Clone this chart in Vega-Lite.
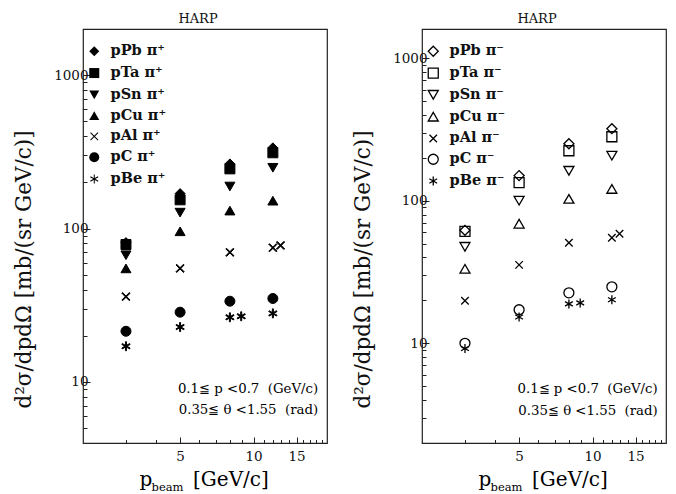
{
  "$schema": "https://vega.github.io/schema/vega-lite/v6.json",
  "padding": {"left": 12, "top": 12, "right": 5, "bottom": 0},
  "background": "white",
  "spacing": 23,
  "datasets": {
    "plus": [
      {"target": "pPb π⁺", "p": 3, "v": 81}, {"target": "pPb π⁺", "p": 5, "v": 169}, {"target": "pPb π⁺", "p": 8, "v": 264}, {"target": "pPb π⁺", "p": 12, "v": 336},
      {"target": "pTa π⁺", "p": 3, "v": 78.7}, {"target": "pTa π⁺", "p": 5, "v": 154}, {"target": "pTa π⁺", "p": 8, "v": 245}, {"target": "pTa π⁺", "p": 12, "v": 312},
      {"target": "pSn π⁺", "p": 3, "v": 67}, {"target": "pSn π⁺", "p": 5, "v": 127}, {"target": "pSn π⁺", "p": 8, "v": 188}, {"target": "pSn π⁺", "p": 12, "v": 249},
      {"target": "pCu π⁺", "p": 3, "v": 55}, {"target": "pCu π⁺", "p": 5, "v": 96}, {"target": "pCu π⁺", "p": 8, "v": 131}, {"target": "pCu π⁺", "p": 12, "v": 152},
      {"target": "pAl π⁺", "p": 3, "v": 36}, {"target": "pAl π⁺", "p": 5, "v": 55}, {"target": "pAl π⁺", "p": 8, "v": 70}, {"target": "pAl π⁺", "p": 12, "v": 75}, {"target": "pAl π⁺", "p": 12.9, "v": 77.6},
      {"target": "pC π⁺", "p": 3, "v": 21.4}, {"target": "pC π⁺", "p": 5, "v": 28.5}, {"target": "pC π⁺", "p": 8, "v": 33.6}, {"target": "pC π⁺", "p": 12, "v": 35},
      {"target": "pBe π⁺", "p": 3, "v": 17.1}, {"target": "pBe π⁺", "p": 5, "v": 22.8}, {"target": "pBe π⁺", "p": 8, "v": 26.4}, {"target": "pBe π⁺", "p": 8.9, "v": 26.8}, {"target": "pBe π⁺", "p": 12, "v": 28}
    ],
    "minus": [
      {"target": "pPb π⁻", "p": 3, "v": 62}, {"target": "pPb π⁻", "p": 5, "v": 150}, {"target": "pPb π⁻", "p": 8, "v": 251}, {"target": "pPb π⁻", "p": 12, "v": 320},
      {"target": "pTa π⁻", "p": 3, "v": 61}, {"target": "pTa π⁻", "p": 5, "v": 134}, {"target": "pTa π⁻", "p": 8, "v": 224}, {"target": "pTa π⁻", "p": 12, "v": 281},
      {"target": "pSn π⁻", "p": 3, "v": 47.5}, {"target": "pSn π⁻", "p": 5, "v": 100}, {"target": "pSn π⁻", "p": 8, "v": 162}, {"target": "pSn π⁻", "p": 12, "v": 207},
      {"target": "pCu π⁻", "p": 3, "v": 33.3}, {"target": "pCu π⁻", "p": 5, "v": 69}, {"target": "pCu π⁻", "p": 8, "v": 103}, {"target": "pCu π⁻", "p": 12, "v": 121},
      {"target": "pAl π⁻", "p": 3, "v": 19.9}, {"target": "pAl π⁻", "p": 5, "v": 35.5}, {"target": "pAl π⁻", "p": 8, "v": 50.7}, {"target": "pAl π⁻", "p": 12, "v": 55}, {"target": "pAl π⁻", "p": 12.9, "v": 58.6},
      {"target": "pC π⁻", "p": 3, "v": 10}, {"target": "pC π⁻", "p": 5, "v": 17.2}, {"target": "pC π⁻", "p": 8, "v": 22.6}, {"target": "pC π⁻", "p": 12, "v": 24.9},
      {"target": "pBe π⁻", "p": 3, "v": 9.2}, {"target": "pBe π⁻", "p": 5, "v": 15.3}, {"target": "pBe π⁻", "p": 8, "v": 18.9}, {"target": "pBe π⁻", "p": 8.9, "v": 19.2}, {"target": "pBe π⁻", "p": 12, "v": 20.2}
    ]
  },
  "resolve": {"scale": {"shape": "independent", "y": "independent", "x": "independent"}, "legend": {"shape": "independent"}},
  "hconcat": [
    {
      "width": 244, "height": 414,
      "title": {"text": "HARP", "anchor": "middle", "dx": -7, "offset": 3},
      "layer": [
        {
          "data": {"name": "plus"},
          "mark": {"type": "point", "filled": true, "size": 100, "color": "black", "stroke": "black", "strokeWidth": 1, "opacity": 1},
          "encoding": {
            "x": {"field": "p", "type": "quantitative", "scale": {"type": "log", "domain": [2, 20], "nice": false},
              "axis": {"title": null, "values": [3,4,5,6,7,8,9,10,11,12,13,14,15,16,17,18,19], "format": "d",
                "labelExpr": "datum.value == 5 || datum.value == 10 || datum.value == 15 ? datum.label : ''",
                "tickSize": {"condition": {"test": "datum.value == 5 || datum.value == 10 || datum.value == 15", "value": -6}, "value": -3.5},
                "labelPadding": 12, "labelFlush": false, "labelOverlap": false}},
            "y": {"field": "v", "type": "quantitative", "scale": {"type": "log", "domain": [4, 2000], "nice": false},
              "axis": {"title": "d²σ/dpdΩ [mb/(sr GeV/c)]", "values": [5,6,7,8,9,10,20,30,40,50,60,70,80,90,100,200,300,400,500,600,700,800,900,1000], "format": "d",
                "labelExpr": "datum.value == 10 || datum.value == 100 || datum.value == 1000 ? datum.label : ''",
                "tickSize": {"condition": {"test": "datum.value == 10 || datum.value == 100 || datum.value == 1000", "value": -7}, "value": -4},
                "labelPadding": 2, "labelFlush": false, "labelOverlap": false, "titleX": -59, "titleY": 240, "titleBaseline": "middle"}},
            "shape": {"field": "target", "type": "nominal",
              "scale": {"domain": ["pPb π⁺", "pTa π⁺", "pSn π⁺", "pCu π⁺", "pAl π⁺", "pC π⁺", "pBe π⁺"],
                "range": ["diamond", "square", "triangle-down", "triangle-up",
                  "M-0.82,-0.68L-0.68,-0.82L0.82,0.68L0.68,0.82ZM-0.68,0.82L-0.82,0.68L0.68,-0.82L0.82,-0.68Z",
                  "circle",
                  "M-0.1,-0.9L0.1,-0.9L0.1,0.9L-0.1,0.9ZM-0.83,-0.363L-0.73,-0.537L0.83,0.363L0.73,0.537ZM-0.73,0.537L-0.83,0.363L0.73,-0.537L0.83,-0.363Z"]},
              "legend": {"title": null, "orient": "none", "legendX": 4, "legendY": 15, "symbolFillColor": "black", "symbolStrokeColor": "black", "symbolStrokeWidth": 1, "symbolSize": 100, "symbolOpacity": 1}}
          }
        },
        {"data": {"values": [{}]},
          "mark": {"type": "text", "align": "right", "baseline": "middle", "font": "DejaVu Serif", "fontSize": 13.3, "color": "black", "text": "0.1≦ p <0.7\u00a0\u00a0(GeV/c)"},
          "encoding": {"x": {"datum": 18.4, "type": "quantitative", "scale": {"type": "log", "domain": [2, 20], "nice": false}}, "y": {"datum": 9.0, "type": "quantitative", "scale": {"type": "log", "domain": [4, 2000], "nice": false}}}},
        {"data": {"values": [{}]},
          "mark": {"type": "text", "align": "right", "baseline": "middle", "font": "DejaVu Serif", "fontSize": 13.3, "color": "black", "text": "0.35≦ θ <1.55\u00a0\u00a0(rad)"},
          "encoding": {"x": {"datum": 18.4, "type": "quantitative", "scale": {"type": "log", "domain": [2, 20], "nice": false}}, "y": {"datum": 6.55, "type": "quantitative", "scale": {"type": "log", "domain": [4, 2000], "nice": false}}}},
        {"data": {"values": [{}]},
          "mark": {"type": "text", "align": "left", "baseline": "alphabetic", "font": "DejaVu Serif", "fontSize": 20, "color": "black", "text": "p"},
          "encoding": {"x": {"datum": 3.41, "type": "quantitative", "scale": {"type": "log", "domain": [2, 20], "nice": false}}, "y": {"datum": 2.10, "type": "quantitative", "scale": {"type": "log", "domain": [4, 2000], "nice": false}}}},
        {"data": {"values": [{}]},
          "mark": {"type": "text", "align": "left", "baseline": "alphabetic", "font": "DejaVu Serif", "fontSize": 11.5, "color": "black", "text": "beam"},
          "encoding": {"x": {"datum": 3.82, "type": "quantitative", "scale": {"type": "log", "domain": [2, 20], "nice": false}}, "y": {"datum": 1.95, "type": "quantitative", "scale": {"type": "log", "domain": [4, 2000], "nice": false}}}},
        {"data": {"values": [{}]},
          "mark": {"type": "text", "align": "left", "baseline": "alphabetic", "font": "DejaVu Serif", "fontSize": 20, "color": "black", "text": "[GeV/c]"},
          "encoding": {"x": {"datum": 5.65, "type": "quantitative", "scale": {"type": "log", "domain": [2, 20], "nice": false}}, "y": {"datum": 2.10, "type": "quantitative", "scale": {"type": "log", "domain": [4, 2000], "nice": false}}}}
      ]
    },
    {
      "width": 244, "height": 414,
      "title": {"text": "HARP", "anchor": "middle", "dx": -7, "offset": 3},
      "layer": [
        {
          "data": {"name": "minus"},
          "mark": {"type": "point", "filled": false, "size": 100, "color": "black", "stroke": "black", "strokeWidth": 1.3, "opacity": 1},
          "encoding": {
            "x": {"field": "p", "type": "quantitative", "scale": {"type": "log", "domain": [2, 20], "nice": false},
              "axis": {"title": null, "values": [3,4,5,6,7,8,9,10,11,12,13,14,15,16,17,18,19], "format": "d",
                "labelExpr": "datum.value == 5 || datum.value == 10 || datum.value == 15 ? datum.label : ''",
                "tickSize": {"condition": {"test": "datum.value == 5 || datum.value == 10 || datum.value == 15", "value": -6}, "value": -3.5},
                "labelPadding": 12, "labelFlush": false, "labelOverlap": false}},
            "y": {"field": "v", "type": "quantitative", "scale": {"type": "log", "domain": [2, 1600], "nice": false},
              "axis": {"title": "d²σ/dpdΩ [mb/(sr GeV/c)]", "values": [3,4,5,6,7,8,9,10,20,30,40,50,60,70,80,90,100,200,300,400,500,600,700,800,900,1000], "format": "d",
                "labelExpr": "datum.value == 10 || datum.value == 100 || datum.value == 1000 ? datum.label : ''",
                "tickSize": {"condition": {"test": "datum.value == 10 || datum.value == 100 || datum.value == 1000", "value": -7}, "value": -4},
                "labelPadding": 2, "labelFlush": false, "labelOverlap": false, "titleX": -59, "titleY": 240, "titleBaseline": "middle"}},
            "shape": {"field": "target", "type": "nominal",
              "scale": {"domain": ["pPb π⁻", "pTa π⁻", "pSn π⁻", "pCu π⁻", "pAl π⁻", "pC π⁻", "pBe π⁻"],
                "range": ["diamond", "square", "triangle-down", "triangle-up", "M-0.75,-0.75L0.75,0.75M-0.75,0.75L0.75,-0.75", "circle", "M0,-0.9L0,0.9M-0.78,-0.45L0.78,0.45M-0.78,0.45L0.78,-0.45"]},
              "legend": {"title": null, "orient": "none", "legendX": 4, "legendY": 15, "symbolFillColor": "transparent", "symbolStrokeColor": "black", "symbolStrokeWidth": 1.3, "symbolSize": 100, "symbolOpacity": 1}}
          }
        },
        {"data": {"values": [{}]},
          "mark": {"type": "text", "align": "right", "baseline": "middle", "font": "DejaVu Serif", "fontSize": 13.3, "color": "black", "text": "0.1≦ p <0.7\u00a0\u00a0(GeV/c)"},
          "encoding": {"x": {"datum": 18.5, "type": "quantitative", "scale": {"type": "log", "domain": [2, 20], "nice": false}}, "y": {"datum": 4.75, "type": "quantitative", "scale": {"type": "log", "domain": [2, 1600], "nice": false}}}},
        {"data": {"values": [{}]},
          "mark": {"type": "text", "align": "right", "baseline": "middle", "font": "DejaVu Serif", "fontSize": 13.3, "color": "black", "text": "0.35≦ θ <1.55\u00a0\u00a0(rad)"},
          "encoding": {"x": {"datum": 18.5, "type": "quantitative", "scale": {"type": "log", "domain": [2, 20], "nice": false}}, "y": {"datum": 3.38, "type": "quantitative", "scale": {"type": "log", "domain": [2, 1600], "nice": false}}}},
        {"data": {"values": [{}]},
          "mark": {"type": "text", "align": "left", "baseline": "alphabetic", "font": "DejaVu Serif", "fontSize": 20, "color": "black", "text": "p"},
          "encoding": {"x": {"datum": 3.41, "type": "quantitative", "scale": {"type": "log", "domain": [2, 20], "nice": false}}, "y": {"datum": 1.0, "type": "quantitative", "scale": {"type": "log", "domain": [2, 1600], "nice": false}}}},
        {"data": {"values": [{}]},
          "mark": {"type": "text", "align": "left", "baseline": "alphabetic", "font": "DejaVu Serif", "fontSize": 11.5, "color": "black", "text": "beam"},
          "encoding": {"x": {"datum": 3.82, "type": "quantitative", "scale": {"type": "log", "domain": [2, 20], "nice": false}}, "y": {"datum": 0.92, "type": "quantitative", "scale": {"type": "log", "domain": [2, 1600], "nice": false}}}},
        {"data": {"values": [{}]},
          "mark": {"type": "text", "align": "left", "baseline": "alphabetic", "font": "DejaVu Serif", "fontSize": 20, "color": "black", "text": "[GeV/c]"},
          "encoding": {"x": {"datum": 5.65, "type": "quantitative", "scale": {"type": "log", "domain": [2, 20], "nice": false}}, "y": {"datum": 1.0, "type": "quantitative", "scale": {"type": "log", "domain": [2, 1600], "nice": false}}}}
      ]
    }
  ],
  "config": {
    "view": {"stroke": "#222", "strokeWidth": 1.2},
    "axis": {"domain": false, "grid": false, "labelFont": "DejaVu Serif", "labelFontSize": 13.5, "labelColor": "#111", "tickColor": "#222", "tickWidth": 1,
      "titleFont": "DejaVu Serif", "titleFontWeight": "normal", "titleFontSize": 21.5, "titleColor": "#111"},
    "title": {"font": "DejaVu Serif", "fontSize": 13, "fontWeight": "normal", "color": "#111"},
    "legend": {"labelFont": "DejaVu Serif", "labelFontWeight": "bold", "labelFontSize": 14.5, "labelColor": "#111", "rowPadding": 5.8, "labelOffset": 9, "padding": 0}
  }
}
